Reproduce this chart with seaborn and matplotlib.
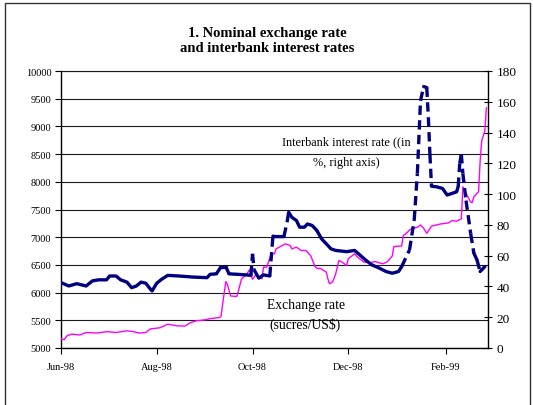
import numpy as np
import pandas as pd
import matplotlib
matplotlib.use("Agg")
import matplotlib.pyplot as plt
import matplotlib.dates as mdates
from matplotlib.collections import LineCollection
from matplotlib.patches import Rectangle
import seaborn as sns

# ---------------- data ----------------
rate_dates = [
    "1998-06-01", "1998-06-06", "1998-06-11", "1998-06-17", "1998-06-21", "1998-06-25",
    "1998-06-30", "1998-07-02", "1998-07-06", "1998-07-09", "1998-07-13", "1998-07-16",
    "1998-07-19", "1998-07-22", "1998-07-25", "1998-07-28", "1998-07-29", "1998-08-01",
    "1998-08-04", "1998-08-08", "1998-08-15", "1998-08-24", "1998-09-02", "1998-09-04",
    "1998-09-08", "1998-09-11", "1998-09-14", "1998-09-16", "1998-09-21", "1998-09-27",
    "1998-09-30", "1998-10-01", "1998-10-02", "1998-10-05", "1998-10-08", "1998-10-12",
    "1998-10-14", "1998-10-15", "1998-10-21", "1998-10-23", "1998-10-24", "1998-10-26",
    "1998-10-29", "1998-10-31", "1998-11-03", "1998-11-05", "1998-11-08", "1998-11-11",
    "1998-11-14", "1998-11-17", "1998-11-20", "1998-11-23", "1998-11-30", "1998-12-05",
    "1998-12-08", "1998-12-12", "1998-12-16", "1998-12-21", "1998-12-25", "1998-12-29",
    "1999-01-02", "1999-01-04", "1999-01-09", "1999-01-12", "1999-01-14", "1999-01-16",
    "1999-01-18", "1999-01-20", "1999-01-21", "1999-01-22", "1999-01-23", "1999-01-26",
    "1999-01-30", "1999-02-02", "1999-02-08", "1999-02-09", "1999-02-10", "1999-02-11",
    "1999-02-12", "1999-02-14", "1999-02-17", "1999-02-19", "1999-02-21", "1999-02-23",
    "1999-02-26",
]
rate_values = [
    42.5, 40.3, 41.8, 40.3, 43.6, 44.3,
    44.3, 46.8, 46.8, 44.3, 42.8, 39.2,
    40.3, 42.8, 42.1, 38.2, 37.1, 42.1,
    44.6, 47.2, 46.8, 46.1, 45.7, 47.9,
    48.2, 52.9, 52.9, 48.2, 47.9, 47.5,
    47.2, 61.2, 50.8, 45.4, 47.5, 46.8,
    72.7, 72.4, 72.4, 81.7, 88.2, 85.0,
    82.8, 78.5, 78.5, 80.6, 79.6, 76.3,
    70.9, 67.7, 64.4, 63.4, 62.6, 63.4,
    60.8, 57.2, 54.0, 51.8, 49.7, 48.6,
    49.7, 52.9, 63.7, 83.2, 113.4, 160.6,
    169.9, 169.2, 149.8, 126.0, 105.1, 104.8,
    103.7, 99.4, 101.5, 104.8, 119.9, 126.0,
    113.4, 95.8, 74.2, 61.6, 57.2, 49.7,
    52.9,
]

fx_dates = [
    "1998-06-01", "1998-06-03", "1998-06-05", "1998-06-08", "1998-06-13", "1998-06-17",
    "1998-06-24", "1998-06-30", "1998-07-06", "1998-07-13", "1998-07-17", "1998-07-21",
    "1998-07-25", "1998-07-28", "1998-08-03", "1998-08-08", "1998-08-14", "1998-08-19",
    "1998-08-22", "1998-08-26", "1998-09-01", "1998-09-04", "1998-09-10", "1998-09-11",
    "1998-09-12", "1998-09-14", "1998-09-15", "1998-09-17", "1998-09-21", "1998-09-22",
    "1998-09-24", "1998-09-27", "1998-09-29", "1998-10-01", "1998-10-03", "1998-10-05",
    "1998-10-07", "1998-10-08", "1998-10-10", "1998-10-13", "1998-10-15", "1998-10-16",
    "1998-10-20", "1998-10-22", "1998-10-25", "1998-10-26", "1998-10-29", "1998-11-01",
    "1998-11-04", "1998-11-07", "1998-11-10", "1998-11-12", "1998-11-13", "1998-11-17",
    "1998-11-18", "1998-11-19", "1998-11-21", "1998-11-23", "1998-11-25", "1998-11-27",
    "1998-11-30", "1998-12-01", "1998-12-05", "1998-12-07", "1998-12-11", "1998-12-15",
    "1998-12-18", "1998-12-23", "1998-12-26", "1998-12-29", "1998-12-30", "1999-01-02",
    "1999-01-04", "1999-01-05", "1999-01-07", "1999-01-09", "1999-01-11", "1999-01-14",
    "1999-01-16", "1999-01-18", "1999-01-20", "1999-01-23", "1999-01-26", "1999-01-29",
    "1999-02-01", "1999-02-03", "1999-02-05", "1999-02-08", "1999-02-11", "1999-02-12",
    "1999-02-13", "1999-02-15", "1999-02-17", "1999-02-18", "1999-02-19", "1999-02-22",
    "1999-02-23", "1999-02-24", "1999-02-26", "1999-02-27",
]
fx_values = [
    5165, 5150, 5225, 5250, 5235, 5280,
    5270, 5295, 5280, 5310, 5295, 5270,
    5280, 5345, 5365, 5430, 5400, 5395,
    5450, 5490, 5510, 5530, 5550, 5580,
    5800, 6200, 6150, 5940, 5930, 6030,
    6250, 6320, 6410, 6240, 6320, 6270,
    6250, 6460, 6460, 6700, 6700, 6790,
    6850, 6880, 6850, 6790, 6820, 6760,
    6760, 6670, 6460, 6430, 6440, 6370,
    6250, 6160, 6190, 6340, 6580, 6550,
    6490, 6610, 6700, 6640, 6550, 6540,
    6560, 6520, 6560, 6660, 6830, 6840,
    6840, 7030, 7070, 7130, 7160, 7180,
    7220, 7160, 7070, 7200, 7220, 7240,
    7250, 7260, 7300, 7290, 7330, 7910,
    7850, 7740, 7630, 7630, 7730, 7820,
    8380, 8740, 8920, 9340,
]

x_tick_dates = ["1998-06-01", "1998-08-01", "1998-10-01", "1998-12-01", "1999-02-01"]
x_range = ["1998-06-01", "1999-02-28"]
left_ticks = list(range(5000, 10001, 500))
right_ticks = list(range(0, 181, 20))

title_text = "1. Nominal exchange rate\nand interbank interest rates"
rate_label = ["Interbank interest rate ((in", "%, right axis)"]
fx_label = ["Exchange rate", "(sucres/US$)"]

NAVY = "#000080"
MAGENTA = "#FF00FF"

# ---------------- figure ----------------
sns.set_theme(style="white")
plt.rcParams["font.family"] = ["Liberation Serif", "DejaVu Serif"]
plt.rcParams["text.color"] = "black"

W, H = 533, 406
fig = plt.figure(figsize=(W / 100, H / 100), dpi=100)
fig.patch.set_facecolor("white")

# outer frame
fig.patches.append(Rectangle((4.5 / W, -0.1), 525.5 / W, 1.1 - 3.5 / H,
                             transform=fig.transFigure, fill=False,
                             edgecolor="#333333", lw=1.0))

ax = fig.add_axes([61 / W, (H - 349) / H, 427 / W, 277 / H])
ax.set_facecolor("white")

fx = pd.DataFrame({"date": pd.to_datetime(fx_dates), "value": fx_values})
sns.lineplot(data=fx, x="date", y="value", ax=ax, color=MAGENTA, lw=1.0,
             estimator=None, zorder=3)

ax.set_xlim(pd.Timestamp(x_range[0]), pd.Timestamp(x_range[1]))
ax.set_ylim(left_ticks[0], left_ticks[-1])
ax.set_yticks(left_ticks)
ax.set_yticklabels([str(t) for t in left_ticks])
ax.set_xticks(pd.to_datetime(x_tick_dates))
ax.xaxis.set_major_formatter(mdates.DateFormatter("%b-%y"))
ax.set_xlabel("")
ax.set_ylabel("")
ax.yaxis.grid(True, color="#1a1a1a", lw=0.8)
ax.xaxis.grid(False)
ax.set_axisbelow(True)
ax.tick_params(axis="y", left=True, direction="out", length=4, width=0.8,
               labelsize=7.5, pad=3, colors="black")
ax.tick_params(axis="x", bottom=True, direction="out", length=4, width=0.8,
               labelsize=7.5, pad=6, colors="black")
for s in ["left", "bottom"]:
    ax.spines[s].set_color("black")
    ax.spines[s].set_linewidth(1.0)
ax.spines["top"].set_color("#1a1a1a")
ax.spines["top"].set_linewidth(0.8)
ax.spines["right"].set_visible(False)

ax2 = ax.twinx()
ax2.set_ylim(right_ticks[0], right_ticks[-1])
ax2.set_yticks(right_ticks)
ax2.set_yticklabels([str(t) for t in right_ticks])
ax2.tick_params(axis="y", right=True, direction="inout", length=6, width=0.8,
                labelsize=9.5, pad=3, colors="black")
for s in ["left", "top", "bottom"]:
    ax2.spines[s].set_visible(False)
ax2.spines["right"].set_color("black")
ax2.spines["right"].set_linewidth(1.0)
ax2.grid(False)

# interbank rate: solid where it moves little, dashed on the big jumps
xs = mdates.date2num(pd.to_datetime(rate_dates))
ys = np.asarray(rate_values, dtype=float)
pts = ax2.transData.transform(np.column_stack([xs, ys]))
steep = np.abs(np.diff(pts[:, 1])) > 7.0
solid_runs, dashed_segs = [], []
run = [0]
for i, s in enumerate(steep):
    if s:
        if len(run) > 1:
            solid_runs.append(run)
        dashed_segs.append([i, i + 1])
        run = [i + 1]
    else:
        run.append(i + 1)
if len(run) > 1:
    solid_runs.append(run)

lc_solid = LineCollection([np.column_stack([xs[r], ys[r]]) for r in solid_runs],
                          colors=NAVY, linewidths=2.4, zorder=4)
lc_solid.set_joinstyle("round")
lc_solid.set_capstyle("round")
lc_dash = LineCollection([np.column_stack([xs[r], ys[r]]) for r in dashed_segs],
                         colors=NAVY, linewidths=2.4, linestyles=[(0, (2.8, 1.6))],
                         zorder=4)
lc_dash.set_capstyle("butt")
ax2.add_collection(lc_solid)
ax2.add_collection(lc_dash)
ax2.set_xlim(pd.Timestamp(x_range[0]), pd.Timestamp(x_range[1]))

# texts
fig.text(0.502, 1 - 41.5 / H, title_text, ha="center", va="center",
         fontsize=10.5, fontweight="bold", linespacing=1.2)
fig.text(346 / W, 1 - 142 / H, rate_label[0], ha="center", va="center", fontsize=8.8)
fig.text(346 / W, 1 - 163 / H, rate_label[1], ha="center", va="center", fontsize=8.8)
fig.text(306 / W, 1 - 306 / H, fx_label[0], ha="center", va="center", fontsize=9.8)
fig.text(305 / W, 1 - 325 / H, fx_label[1], ha="center", va="center", fontsize=9.8)

fig.savefig("out.png", dpi=100, facecolor="white")
